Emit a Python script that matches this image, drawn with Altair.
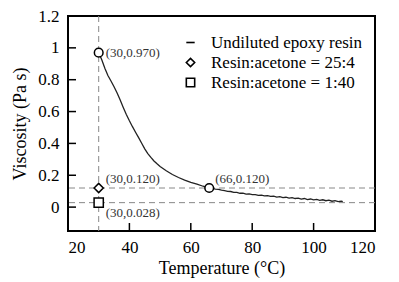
import altair as alt
import pandas as pd

# Undiluted epoxy resin viscosity curve
temp = [30, 31, 32, 33, 34, 35, 36, 37, 38, 39, 40, 41, 42, 43, 44, 45, 46, 47, 48, 49,
        50, 52, 54, 56, 58, 60, 62, 64, 66, 67, 68, 69, 70, 71, 72, 73, 74, 75, 76, 77,
        78, 79, 80, 81, 82, 83, 84, 85, 86, 87, 88, 89, 90, 91, 92, 93, 94, 95, 96, 97,
        98, 99, 100, 101, 102, 103, 104, 105, 106, 107, 108, 109, 109.5]
visc = [0.970, 0.925, 0.872, 0.826, 0.792, 0.756, 0.716, 0.672, 0.626, 0.582, 0.542, 0.505,
        0.470, 0.436, 0.401, 0.366, 0.336, 0.312, 0.290, 0.272, 0.255, 0.228, 0.205, 0.186,
        0.170, 0.156, 0.144, 0.131, 0.120, 0.117, 0.113, 0.111, 0.106, 0.104, 0.099, 0.098,
        0.093, 0.092, 0.087, 0.088, 0.082, 0.083, 0.078, 0.079, 0.074, 0.075, 0.071, 0.072,
        0.067, 0.069, 0.063, 0.066, 0.060, 0.062, 0.057, 0.060, 0.054, 0.056, 0.050, 0.054,
        0.047, 0.051, 0.045, 0.048, 0.042, 0.046, 0.040, 0.044, 0.037, 0.041, 0.035, 0.038,
        0.034]

series_names = ["Undiluted epoxy resin", "Resin:acetone = 25:4", "Resin:acetone = 1:40"]
series_shapes = ["stroke", "diamond", "square"]

diluted_series = ["Resin:acetone = 25:4", "Resin:acetone = 1:40"]
diluted_t = [30, 30]
diluted_v = [0.120, 0.028]

circle_t = [30, 66]
circle_v = [0.970, 0.120]

ref_v_lines = [30]
ref_h_lines = [0.120, 0.028]

ann_t = [30, 30, 30, 66]
ann_v = [0.970, 0.120, 0.028, 0.120]
ann_text = ["(30,0.970)", "(30,0.120)", "(30,0.028)", "(66,0.120)"]

x_ticks = [20, 40, 60, 80, 100, 120]
y_ticks = [0, 0.2, 0.4, 0.6, 0.8, 1.0, 1.2]

FONT = "Liberation Serif"
W, H = 307, 215

xs = alt.Scale(domain=[20, 120], nice=False, zero=False)
ys = alt.Scale(domain=[-0.15, 1.2], nice=False, zero=False)
shape_scale = alt.Scale(domain=series_names, range=series_shapes)

AX = dict(ticks=False, domain=False, grid=False, labelOverlap=False,
          labelFont=FONT, labelFontSize=17, labelColor="black",
          titleFont=FONT, titleFontSize=18, titleFontWeight="normal", titleColor="black")

X = lambda: alt.X("T:Q", scale=xs, axis=alt.Axis(values=x_ticks, title="Temperature (°C)",
                                                 labelPadding=8, titlePadding=4, **AX))
Y = lambda: alt.Y("V:Q", scale=ys, axis=alt.Axis(values=y_ticks, format="~g", title="Viscosity (Pa s)",
                                                 labelPadding=9, titlePadding=8, **AX))

vline = alt.Chart(pd.DataFrame({"T": ref_v_lines})).mark_rule(
    color="#888", strokeDash=[6, 4], strokeWidth=1
).encode(x=X())

hline = alt.Chart(pd.DataFrame({"V": ref_h_lines})).mark_rule(
    color="#888", strokeDash=[6, 4], strokeWidth=1
).encode(y=Y())

line = alt.Chart(pd.DataFrame({"T": temp, "V": visc})).mark_line(
    color="#222", strokeWidth=1.3
).encode(x=X(), y=Y())

circles = alt.Chart(pd.DataFrame({"T": circle_t, "V": circle_v})).mark_point(
    shape="circle", filled=True, fill="white", stroke="black", size=75, strokeWidth=1.5, opacity=1
).encode(x=X(), y=Y())

pts_df = pd.DataFrame({"T": diluted_t, "V": diluted_v, "S": diluted_series})
fills = []
for name, shp in zip(series_names[1:], series_shapes[1:]):
    fills.append(
        alt.Chart(pts_df).transform_filter(alt.datum.S == name).mark_point(
            shape=shp, filled=True, color="white", size=85, opacity=1
        ).encode(x=X(), y=Y())
    )

pts = alt.Chart(pts_df).mark_point(
    filled=False, color="black", size=85, strokeWidth=1.5, opacity=1
).encode(
    x=X(),
    y=Y(),
    shape=alt.Shape("S:N", scale=shape_scale,
                    legend=alt.Legend(title=None, orient="none", legendX=114, legendY=18)),
)

ann_df = pd.DataFrame({"T": ann_t, "V": ann_v, "L": ann_text})
offsets = [(7, 0), (7, -9), (7, 10), (6, -9)]
texts = []
for i, (dx, dy) in enumerate(offsets):
    texts.append(
        alt.Chart(ann_df.iloc[[i]]).mark_text(
            align="left", baseline="middle", dx=dx, dy=dy, font=FONT, fontSize=13, color="#333"
        ).encode(x=X(), y=Y(), text="L:N")
    )

yticks = alt.Chart(pd.DataFrame({"V": y_ticks})).mark_rule(color="black", strokeWidth=1.5).encode(
    y=Y(), x=alt.value(0), x2=alt.value(8)
)
xticks = alt.Chart(pd.DataFrame({"T": x_ticks[1:-1]})).mark_rule(color="black", strokeWidth=1.5).encode(
    x=X(), y=alt.value(H), y2=alt.value(H - 8)
)

chart = alt.layer(vline, hline, line, yticks, xticks, circles, *fills, pts, *texts).properties(
    width=W, height=H,
    padding={"left": 60, "top": 8, "right": 16, "bottom": 50},
    autosize=alt.AutoSizeParams(type="none"),
    background="white",
).configure(font=FONT).configure_view(
    stroke="black", strokeWidth=2
).configure_legend(
    labelFont=FONT, labelFontSize=17, labelColor="black",
    symbolStrokeColor="black", symbolStrokeWidth=1.6, symbolSize=70,
    symbolOpacity=1, labelOffset=12, rowPadding=2,
)

chart.save("out.html", embed_options={"renderer": "svg", "actions": False})
